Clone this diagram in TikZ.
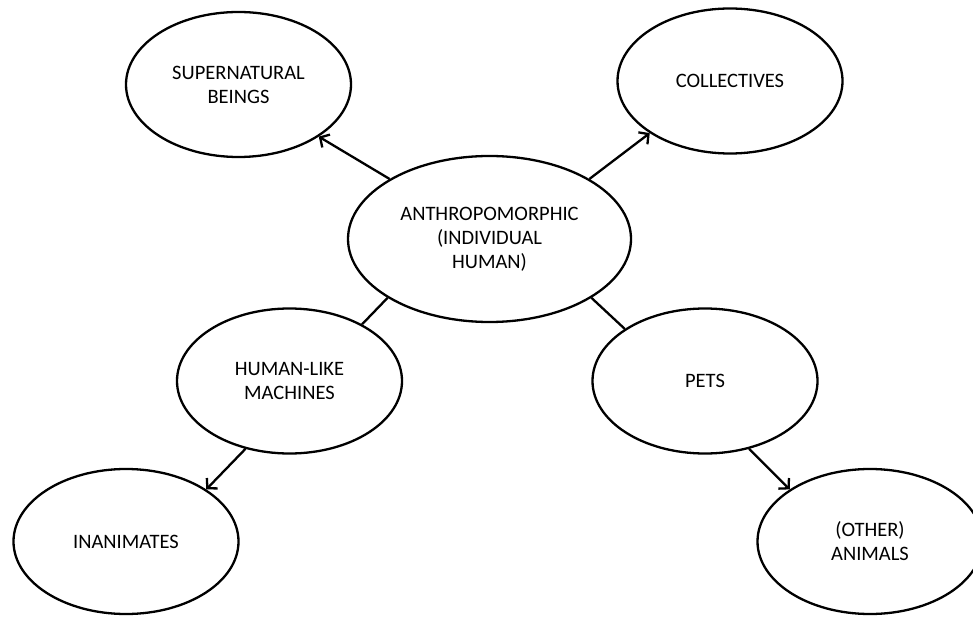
\documentclass[tikz,border=0pt]{standalone}
\usepackage{fontspec}
\setmainfont{Carlito}
\usetikzlibrary{shapes.geometric,arrows.meta}

\tikzset{
    bubble/.style={draw, ellipse, line width=2.3pt, minimum width=225pt, minimum height=145pt,
        align=center, inner sep=0pt, font=\fontsize{20.5}{24}\selectfont},
    link/.style={line width=2.3pt},
    pointer/.style={line width=2.3pt, -{Straight Barb[length=7pt,width=15pt,line width=2.3pt]}}
}

\begin{document}
\begin{tikzpicture}[x=1pt, y=-1pt]
        \useasboundingbox (0,0) rectangle (973,617);

        \node[bubble, minimum width=283pt, minimum height=166pt] (anthro) at (489.5,239) {ANTHROPOMORPHIC\\(INDIVIDUAL\\HUMAN)};
        \node[bubble] (super) at (238.5,84.5) {SUPERNATURAL\\BEINGS};
        \node[bubble] (coll) at (730,81) {COLLECTIVES};
        \node[bubble] (machines) at (289.5,381) {HUMAN-LIKE\\MACHINES};
        \node[bubble] (pets) at (705,381) {PETS};
        \node[bubble] (inanim) at (126,541.5) {INANIMATES};
        \node[bubble] (animals) at (870,541.5) {(OTHER)\\ANIMALS};

        \draw[pointer] (anthro.149.4) -- (super.-33.6);
        \draw[pointer] (anthro.31) -- (coll.213.7);
        \draw[link] (anthro.210) -- (machines.38);
        \draw[link] (anthro.-30.4) -- (pets.147.6);

        \draw[pointer] (machines.237) -- (inanim.33);
        \draw[pointer] (pets.-57.8) -- (animals.147.3);

    \end{tikzpicture}
\end{document}
